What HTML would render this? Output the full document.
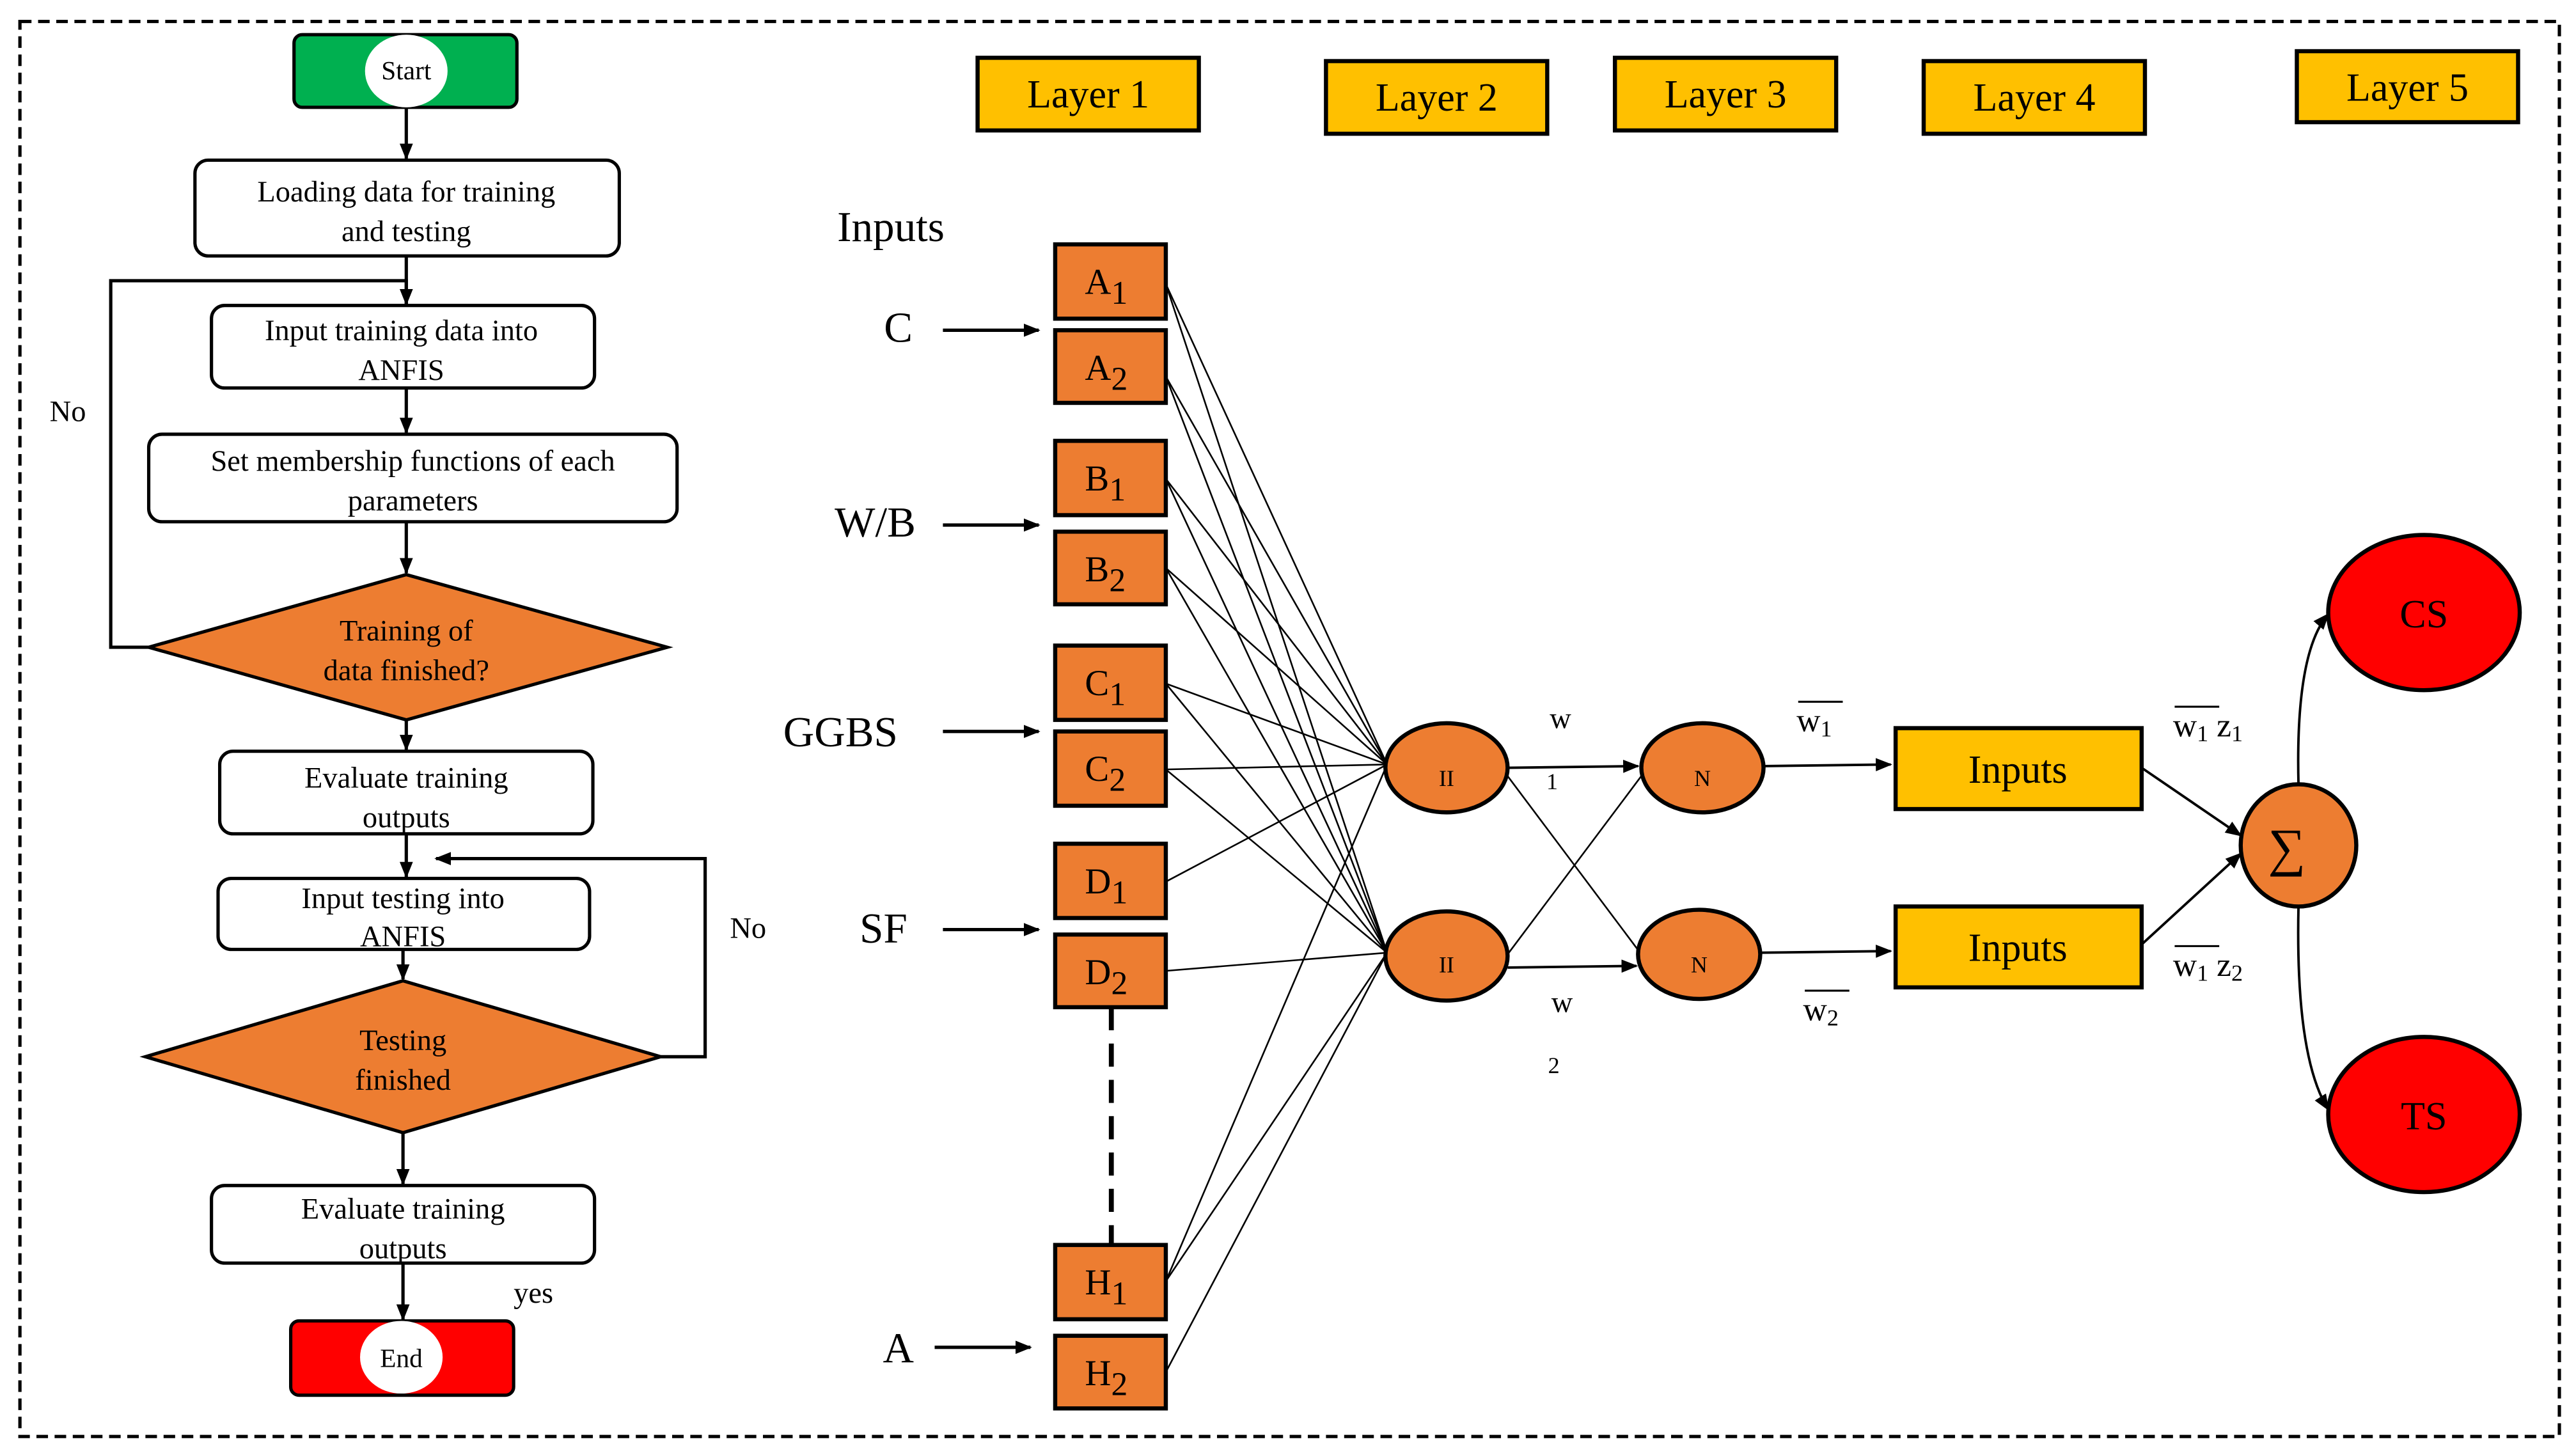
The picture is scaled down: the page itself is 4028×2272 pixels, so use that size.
<!DOCTYPE html>
<html><head><meta charset="utf-8"><style>
html,body{margin:0;padding:0;background:#fff}
svg{display:block}
text{font-family:"Liberation Serif",serif;fill:#000}
</style></head><body>
<svg width="4028" height="2272" viewBox="0 0 1560 880" xmlns="http://www.w3.org/2000/svg">
<defs>
<marker id="ar" markerWidth="10" markerHeight="10" refX="9" refY="5" orient="auto" markerUnits="userSpaceOnUse">
<path d="M0,1 L10,5 L0,9 Z" fill="#000"/></marker>
</defs>
<rect x="0" y="0" width="1560" height="880" fill="#fff"/>
<rect x="12" y="13" width="1538" height="857" fill="none" stroke="#000" stroke-width="2" stroke-dasharray="7,4"/>

<!-- Flowchart -->
<g stroke="#000" stroke-width="2" fill="none">
<rect x="178" y="21" width="135" height="44" rx="5" fill="#00b050"/>
<rect x="118" y="97" width="257" height="58" rx="8" fill="#fff"/>
<rect x="128" y="185" width="232" height="50" rx="8" fill="#fff"/>
<rect x="90" y="263" width="320" height="53" rx="8" fill="#fff"/>
<polygon points="246,348 404,392 246,436 90,392" fill="#ed7d31"/>
<rect x="133" y="455" width="226" height="50" rx="8" fill="#fff"/>
<rect x="132" y="532" width="225" height="43" rx="8" fill="#fff"/>
<polygon points="244,594 400,640 244,686 88,640" fill="#ed7d31"/>
<rect x="128" y="718" width="232" height="47" rx="8" fill="#fff"/>
<rect x="176" y="800" width="135" height="45" rx="5" fill="#ff0000"/>
<line x1="246" y1="65" x2="246" y2="96" marker-end="url(#ar)"/>
<line x1="246" y1="155" x2="246" y2="184" marker-end="url(#ar)"/>
<line x1="246" y1="235" x2="246" y2="262" marker-end="url(#ar)"/>
<line x1="246" y1="316" x2="246" y2="347" marker-end="url(#ar)"/>
<line x1="246" y1="436" x2="246" y2="454" marker-end="url(#ar)"/>
<line x1="246" y1="505" x2="246" y2="531" marker-end="url(#ar)"/>
<line x1="244" y1="575" x2="244" y2="593" marker-end="url(#ar)"/>
<line x1="244" y1="686" x2="244" y2="717" marker-end="url(#ar)"/>
<line x1="244" y1="765" x2="244" y2="799" marker-end="url(#ar)"/>
<polyline points="90,392 67,392 67,170 246,170 246,184" marker-end="url(#ar)"/>
<polyline points="400,640 427,640 427,520 264,520" marker-end="url(#ar)"/>
</g>
<ellipse cx="246" cy="43" rx="25" ry="22" fill="#fff"/>
<ellipse cx="243" cy="822" rx="25" ry="22" fill="#fff"/>
<g font-size="18" text-anchor="middle">
<text x="246" y="48" font-size="16">Start</text>
<text x="243" y="828" font-size="16">End</text>
<text x="246" y="122">Loading data for training</text>
<text x="246" y="146">and testing</text>
<text x="243" y="206">Input training  data into</text>
<text x="243" y="230">ANFIS</text>
<text x="250" y="285">Set membership functions of each</text>
<text x="250" y="309">parameters</text>
<text x="246" y="388">Training  of</text>
<text x="246" y="412">data finished?</text>
<text x="246" y="477">Evaluate  training</text>
<text x="246" y="501">outputs</text>
<text x="244" y="550">Input testing into</text>
<text x="244" y="573">ANFIS</text>
<text x="244" y="636">Testing</text>
<text x="244" y="660">finished</text>
<text x="244" y="738">Evaluate training</text>
<text x="244" y="762">outputs</text>
<text x="41" y="255">No</text>
<text x="453" y="568">No</text>
<text x="323" y="789">yes</text>
</g>

<!-- Layers -->
<g stroke="#000" stroke-width="2.5" fill="#ffc000">
<rect x="592" y="35" width="134" height="44"/>
<rect x="803" y="37" width="134" height="44"/>
<rect x="978" y="35" width="134" height="44"/>
<rect x="1165" y="37" width="134" height="44"/>
<rect x="1391" y="31" width="134" height="43"/>
</g>
<g font-size="24" text-anchor="middle">
<text x="659" y="65">Layer 1</text>
<text x="870" y="67">Layer 2</text>
<text x="1045" y="65">Layer 3</text>
<text x="1232" y="67">Layer 4</text>
<text x="1458" y="61">Layer 5</text>
</g>

<text x="507" y="146" font-size="26">Inputs</text>
<g font-size="26" text-anchor="middle">
<text x="544" y="207">C</text>
<text x="530" y="325">W/B</text>
<text x="509" y="452">GGBS</text>
<text x="535" y="571">SF</text>
<text x="544" y="825">A</text>
</g>
<g stroke="#000" stroke-width="2">
<line x1="571" y1="200" x2="629" y2="200" marker-end="url(#ar)"/>
<line x1="571" y1="318" x2="629" y2="318" marker-end="url(#ar)"/>
<line x1="571" y1="443" x2="629" y2="443" marker-end="url(#ar)"/>
<line x1="571" y1="563" x2="629" y2="563" marker-end="url(#ar)"/>
<line x1="566" y1="816" x2="624" y2="816" marker-end="url(#ar)"/>
<line x1="673" y1="610" x2="673" y2="754" stroke-width="3" stroke-dasharray="14,8"/>
</g>

<!-- connections to pi nodes -->
<g stroke="#000" stroke-width="1">
<line x1="706" y1="172" x2="840" y2="463"/>
<line x1="706" y1="172" x2="840" y2="577"/>
<line x1="706" y1="228" x2="840" y2="463"/>
<line x1="706" y1="228" x2="840" y2="577"/>
<line x1="706" y1="290" x2="840" y2="463"/>
<line x1="706" y1="290" x2="840" y2="577"/>
<line x1="706" y1="344" x2="840" y2="463"/>
<line x1="706" y1="344" x2="840" y2="577"/>
<line x1="706" y1="414" x2="840" y2="463"/>
<line x1="706" y1="414" x2="840" y2="577"/>
<line x1="706" y1="466" x2="840" y2="463"/>
<line x1="706" y1="466" x2="840" y2="577"/>
<line x1="706" y1="534" x2="840" y2="463"/>
<line x1="706" y1="588" x2="840" y2="577"/>
<line x1="706" y1="776" x2="840" y2="463"/>
<line x1="706" y1="776" x2="840" y2="577"/>
<line x1="706" y1="831" x2="840" y2="577"/>
<line x1="913" y1="578" x2="994" y2="470"/>
<line x1="913" y1="470" x2="994" y2="578"/>
</g>
<g stroke="#000" stroke-width="1.5">
<line x1="913" y1="465" x2="992" y2="464" marker-end="url(#ar)"/>
<line x1="913" y1="586" x2="991" y2="585" marker-end="url(#ar)"/>
<line x1="1068" y1="464" x2="1145" y2="463" marker-end="url(#ar)"/>
<line x1="1066" y1="577" x2="1145" y2="576" marker-end="url(#ar)"/>
<line x1="1297" y1="465" x2="1357" y2="506" marker-end="url(#ar)"/>
<line x1="1297" y1="572" x2="1357" y2="517" marker-end="url(#ar)"/>
<path d="M1392,475 Q1390,395 1410,372" fill="none" marker-end="url(#ar)"/>
<path d="M1392,549 Q1390,640 1410,672" fill="none" marker-end="url(#ar)"/>
</g>

<g stroke="#000" stroke-width="2.5" fill="#ed7d31">
<rect x="639" y="148" width="67" height="45"/>
<rect x="639" y="200" width="67" height="44"/>
<rect x="639" y="267" width="67" height="45"/>
<rect x="639" y="322" width="67" height="44"/>
<rect x="639" y="391" width="67" height="45"/>
<rect x="639" y="443" width="67" height="45"/>
<rect x="639" y="511" width="67" height="45"/>
<rect x="639" y="566" width="67" height="44"/>
<rect x="639" y="754" width="67" height="45"/>
<rect x="639" y="809" width="67" height="44"/>
<ellipse cx="876" cy="465" rx="37" ry="27"/>
<ellipse cx="876" cy="579" rx="37" ry="27"/>
<ellipse cx="1031" cy="465" rx="37" ry="27"/>
<ellipse cx="1029" cy="578" rx="37" ry="27"/>
<ellipse cx="1392" cy="512" rx="35" ry="37"/>
</g>
<g stroke="#000" stroke-width="2.5" fill="#ff0000">
<ellipse cx="1468" cy="371" rx="58" ry="47"/>
<ellipse cx="1468" cy="675" rx="58" ry="47"/>
</g>
<g stroke="#000" stroke-width="2.5" fill="#ffc000">
<rect x="1148" y="441" width="149" height="49"/>
<rect x="1148" y="549" width="149" height="49"/>
</g>

<g font-size="22">
<text x="657" y="178">A<tspan font-size="20" dy="6">1</tspan></text>
<text x="657" y="230">A<tspan font-size="20" dy="6">2</tspan></text>
<text x="657" y="297">B<tspan font-size="20" dy="6">1</tspan></text>
<text x="657" y="352">B<tspan font-size="20" dy="6">2</tspan></text>
<text x="657" y="421">C<tspan font-size="20" dy="6">1</tspan></text>
<text x="657" y="473">C<tspan font-size="20" dy="6">2</tspan></text>
<text x="657" y="541">D<tspan font-size="20" dy="6">1</tspan></text>
<text x="657" y="596">D<tspan font-size="20" dy="6">2</tspan></text>
<text x="657" y="784">H<tspan font-size="20" dy="6">1</tspan></text>
<text x="657" y="839">H<tspan font-size="20" dy="6">2</tspan></text>
</g>
<g text-anchor="middle">
<text x="876" y="476" font-size="14">II</text>
<text x="876" y="589" font-size="14">II</text>
<text x="1031" y="476" font-size="14">N</text>
<text x="1029" y="589" font-size="14">N</text>
<text x="1385" y="524" font-size="32">∑</text>
<text x="1468" y="380" font-size="24">CS</text>
<text x="1468" y="684" font-size="24">TS</text>
<text x="1222" y="474" font-size="24">Inputs</text>
<text x="1222" y="582" font-size="24">Inputs</text>
<text x="945" y="441" font-size="18">w</text>
<text x="940" y="478" font-size="14">1</text>
<text x="946" y="613" font-size="18">w</text>
<text x="941" y="650" font-size="14">2</text>
</g>
<g font-size="20">
<text x="1088" y="443">w<tspan font-size="14" dy="3">1</tspan></text>
<line x1="1089" y1="425" x2="1116" y2="425" stroke="#000" stroke-width="1.2"/>
<text x="1092" y="618">w<tspan font-size="14" dy="3">2</tspan></text>
<line x1="1093" y1="600" x2="1120" y2="600" stroke="#000" stroke-width="1.2"/>
<text x="1316" y="446">w<tspan font-size="14" dy="3">1</tspan><tspan dy="-3"> z</tspan><tspan font-size="14" dy="3">1</tspan></text>
<line x1="1317" y1="428" x2="1344" y2="428" stroke="#000" stroke-width="1.2"/>
<text x="1316" y="591">w<tspan font-size="14" dy="3">1</tspan><tspan dy="-3"> z</tspan><tspan font-size="14" dy="3">2</tspan></text>
<line x1="1317" y1="573" x2="1344" y2="573" stroke="#000" stroke-width="1.2"/>
</g>
</svg>
</body></html>
